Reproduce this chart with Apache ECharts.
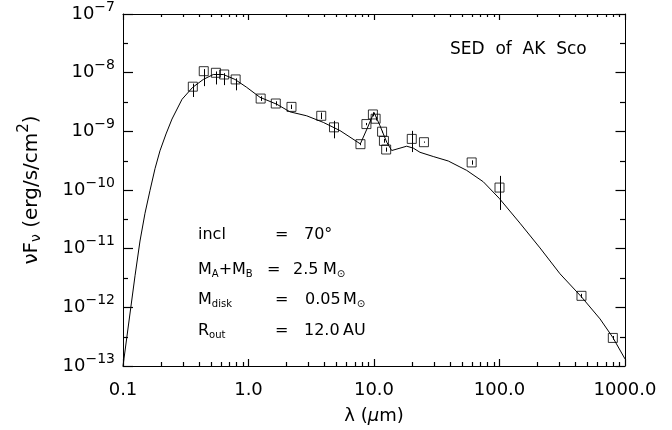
<!DOCTYPE html>
<html>
<head>
<meta charset="utf-8">
<script src="https://cdn.jsdelivr.net/npm/echarts@6/dist/echarts.min.js"></script>
<style>
  html, body { margin: 0; padding: 0; background: #fff; }
  #chart { width: 672px; height: 430px; }
</style>
</head>
<body>
<div id="chart"></div>
<script>
// Photometry of AK Sco: wavelength in micron, nuF_nu in erg/s/cm^2
const wavelength = [0.36, 0.44, 0.55, 0.64, 0.79, 1.25, 1.65, 2.2, 3.8, 4.8,
  7.8, 8.7, 9.8, 10.3, 11.6, 12.0, 12.5, 20.0, 25.0, 60.0, 100.0, 450.0, 800.0];
const flux = [5.77e-9, 1.06e-8, 9.95e-9, 9.31e-9, 7.67e-9, 3.62e-9, 2.98e-9, 2.61e-9, 1.84e-9, 1.17e-9,
  6.04e-10, 1.33e-9, 1.94e-9, 1.64e-9, 9.86e-10, 6.87e-10, 4.9e-10, 7.43e-10, 6.53e-10, 2.95e-10,
  1.10e-10, 1.57e-12, 3.01e-13];
// Error range of each measurement
const fluxLow = [3.85e-9, 5.9e-9, 6.3e-9, 6.14e-9, 5.0e-9, 3.3e-9, 2.75e-9, 2.4e-9, 1.62e-9, 7.6e-10,
  5.8e-10, 1.27e-9, 1.8e-9, 1.53e-9, 9.5e-10, 6.4e-10, 4.5e-10, 4.43e-10, 6.4e-10, 2.7e-10,
  4.57e-11, 1.45e-12, 2.8e-13];
const fluxHigh = [6.5e-9, 1.15e-8, 1.05e-8, 9.8e-9, 8.0e-9, 3.96e-9, 3.25e-9, 2.85e-9, 2.09e-9, 1.51e-9,
  6.3e-10, 1.39e-9, 2.1e-9, 1.76e-9, 1.02e-9, 7.4e-10, 5.3e-10, 1.02e-9, 6.7e-10, 3.2e-10,
  1.74e-10, 1.7e-12, 3.25e-13];

// Model SED of star plus disk
const modelWavelength = [0.1, 0.1247, 0.1366, 0.1497, 0.1641, 0.1799, 0.1971, 0.2202, 0.2457, 0.2954,
  0.359, 0.4365, 0.524, 0.630, 0.7806, 0.9676, 1.235, 1.678, 2.141, 2.909,
  3.945, 5.357, 7.78, 8.79, 10.0, 11.16, 12.63, 13.84, 16.11, 18.23,
  20.57, 23.26, 29.66, 39.08, 48.4, 54.8, 74.3, 99.6, 145.6, 210.2,
  303.4, 448.5, 632.3, 798, 1000];
const modelFlux = [1.0e-13, 3.45e-12, 1.35e-11, 4.01e-11, 9.8e-11, 2.31e-10, 4.66e-10, 9.02e-10, 1.62e-9, 3.52e-9,
  5.62e-9, 7.67e-9, 9.31e-9, 9.31e-9, 7.67e-9, 5.62e-9, 3.80e-9, 2.90e-9, 2.15e-9, 1.84e-9,
  1.42e-9, 1.03e-9, 6.11e-10, 1.10e-9, 2.10e-9, 1.25e-9, 6.53e-10, 4.71e-10, 5.17e-10, 5.58e-10,
  5.17e-10, 4.39e-10, 3.72e-10, 3.12e-10, 2.47e-10, 2.16e-10, 1.38e-10, 7.19e-11, 2.72e-11, 1.03e-11,
  3.73e-12, 1.52e-12, 6.35e-13, 3.09e-13, 1.32e-13];

// Axis ticks
const xTickLabels = ['0.1', '1.0', '10.0', '100.0', '1000.0'];
const yTickExponents = ['\u221213', '\u221212', '\u221211', '\u221210', '\u22129', '\u22128', '\u22127'];
const xMinorTicks = [0.2, 0.3, 0.4, 0.5, 0.6, 0.7, 0.8, 0.9,
  2, 3, 4, 5, 6, 7, 8, 9,
  20, 30, 40, 50, 60, 70, 80, 90,
  200, 300, 400, 500, 600, 700, 800, 900];
const yMinorTicks = [3.162e-13, 3.162e-12, 3.162e-11, 3.162e-10, 3.162e-9, 3.162e-8];

const FONT = 'DejaVu Sans';
const X_MIN = 0.1, X_MAX = 1000, Y_MIN = 1e-13, Y_MAX = 1e-7;
const INK = '#000';

const chart = echarts.init(document.getElementById('chart'));
const txt = { fontFamily: FONT, color: INK };

function frameAxis(extra) {
  return Object.assign({
    type: 'log',
    splitLine: { show: false },
    axisLine: { show: true, lineStyle: { color: INK, width: 1 } }
  }, extra);
}
function ticks(len) {
  return { show: true, inside: true, length: len, lineStyle: { color: INK, width: 1.2 } };
}

const option = {
  animation: false,
  backgroundColor: '#fff',
  grid: { left: 123, right: 47, top: 14, bottom: 61 },
  xAxis: [
    frameAxis({
      position: 'bottom', min: X_MIN, max: X_MAX,
      axisTick: ticks(7),
      axisLabel: {
        show: true, margin: 15, fontSize: 18, fontFamily: FONT, color: INK,
        showMinLabel: true, showMaxLabel: true,
        formatter: v => xTickLabels[Math.round(Math.log10(v)) + 1] || ''
      },
      name: '{a|\u03bb (}{m|\u03bc}{a|m)}',
      nameLocation: 'middle', nameGap: 41,
      nameTextStyle: {
        rich: {
          a: Object.assign({ fontSize: 18 }, txt),
          m: Object.assign({ fontSize: 18, fontStyle: 'italic' }, txt)
        }
      }
    }),
    frameAxis({
      position: 'top', min: X_MIN, max: X_MAX,
      axisTick: ticks(6),
      axisLabel: { show: false }
    })
  ],
  yAxis: [
    frameAxis({
      position: 'left', min: Y_MIN, max: Y_MAX,
      axisTick: ticks(10),
      axisLabel: {
        show: true, margin: 8, showMinLabel: true, showMaxLabel: true,
        formatter: v => {
          const e = yTickExponents[Math.round(Math.log10(v)) + 13];
          return e ? '{b|10}{s|' + e + '}' : '';
        },
        rich: {
          b: Object.assign({ fontSize: 18, lineHeight: 24 }, txt),
          s: Object.assign({ fontSize: 14, lineHeight: 24, padding: [0, 0, 14, 0] }, txt)
        }
      },
      name: '{t|\u03bdF}{d|\u03bd}{t| (erg/s/cm}{u|2}{t|)}',
      nameLocation: 'middle', nameGap: 78, nameRotate: 90,
      nameTextStyle: {
        rich: {
          t: Object.assign({ fontSize: 20, lineHeight: 26 }, txt),
          d: Object.assign({ fontSize: 14, lineHeight: 26, padding: [9, 0, 0, 0] }, txt),
          u: Object.assign({ fontSize: 15, lineHeight: 26, padding: [0, 0, 15, 0] }, txt)
        }
      }
    }),
    frameAxis({
      position: 'right', min: Y_MIN, max: Y_MAX,
      axisTick: ticks(9.5),
      axisLabel: { show: false }
    })
  ],
  series: [
    {
      type: 'line',
      name: 'model',
      data: modelWavelength.map((x, i) => [x, modelFlux[i]]),
      showSymbol: false,
      symbol: 'none',
      lineStyle: { color: INK, width: 1 },
      z: 2
    },
    {
      type: 'custom',
      name: 'errors',
      data: wavelength.map((x, i) => [x, fluxLow[i], fluxHigh[i]]),
      renderItem: (params, api) => {
        const lo = api.coord([api.value(0), api.value(1)]);
        const hi = api.coord([api.value(0), api.value(2)]);
        const x = Math.round(lo[0]) + 0.5;
        return {
          type: 'line',
          shape: { x1: x, y1: lo[1], x2: x, y2: hi[1] },
          style: { stroke: INK, lineWidth: 1 }
        };
      },
      z: 3
    },
    {
      type: 'scatter',
      name: 'photometry',
      data: wavelength.map((x, i) => [x, flux[i]]),
      symbol: 'rect',
      symbolSize: 9,
      itemStyle: { color: 'rgba(0,0,0,0)', borderColor: INK, borderWidth: 1 },
      z: 4
    },
    {
      // minor ticks along the bottom and top edges
      type: 'custom',
      name: 'xMinor',
      data: xMinorTicks.map(v => [v, 1e-10]),
      renderItem: (params, api) => {
        const cs = params.coordSys;
        const x = Math.round(api.coord([api.value(0), 1e-10])[0]) + 0.5;
        const yb = cs.y + cs.height, yt = cs.y;
        return {
          type: 'group',
          children: [
            { type: 'line', shape: { x1: x, y1: yb, x2: x, y2: yb - 4 }, style: { stroke: INK, lineWidth: 1.2 } },
            { type: 'line', shape: { x1: x, y1: yt, x2: x, y2: yt + 3 }, style: { stroke: INK, lineWidth: 1.2 } }
          ]
        };
      },
      z: 5
    },
    {
      // minor ticks along the left and right edges
      type: 'custom',
      name: 'yMinor',
      data: yMinorTicks.map(v => [1, v]),
      renderItem: (params, api) => {
        const cs = params.coordSys;
        const y = Math.round(api.coord([1, api.value(1)])[1]) + 0.5;
        const xl = cs.x, xr = cs.x + cs.width;
        return {
          type: 'group',
          children: [
            { type: 'line', shape: { x1: xl, y1: y, x2: xl + 5, y2: y }, style: { stroke: INK, lineWidth: 1.2 } },
            { type: 'line', shape: { x1: xr, y1: y, x2: xr - 5, y2: y }, style: { stroke: INK, lineWidth: 1.2 } }
          ]
        };
      },
      z: 5
    }
  ]
};

// Title and model parameters written inside the plot
const richAnn = {
  t: { fontFamily: FONT, fontSize: 16, lineHeight: 22, fill: INK },
  s: { fontFamily: FONT, fontSize: 10, lineHeight: 22, padding: [8, 0, 0, 0], fill: INK }
};
function annText(x, y, text) {
  return {
    type: 'text', x: x, y: y, z: 10,
    style: { text: text, rich: richAnn, verticalAlign: 'middle', align: 'left', fill: INK }
  };
}
option.graphic = [
  {
    type: 'text', x: 450, y: 50, z: 10,
    style: { text: 'SED  of  AK  Sco', fontFamily: FONT, fontSize: 17, fill: INK, verticalAlign: 'middle', align: 'left' }
  },
  annText(198, 235, '{t|incl}'),
  annText(275, 235, '{t|=}'),
  annText(304, 235, '{t|70\u00b0}'),
  annText(198, 270, '{t|M}{s|A}{t|+M}{s|B}'),
  annText(267, 270, '{t|=}'),
  annText(293, 270, '{t|2.5}'),
  annText(323, 270, '{t|M}{s|\u2299}'),
  annText(198, 300, '{t|M}{s|disk}'),
  annText(275, 300, '{t|=}'),
  annText(305, 300, '{t|0.05}'),
  annText(343, 300, '{t|M}{s|\u2299}'),
  annText(198, 331, '{t|R}{s|out}'),
  annText(275, 331, '{t|=}'),
  annText(304, 331, '{t|12.0}'),
  annText(343, 331, '{t|AU}')
];

chart.setOption(option);
</script>
</body>
</html>
